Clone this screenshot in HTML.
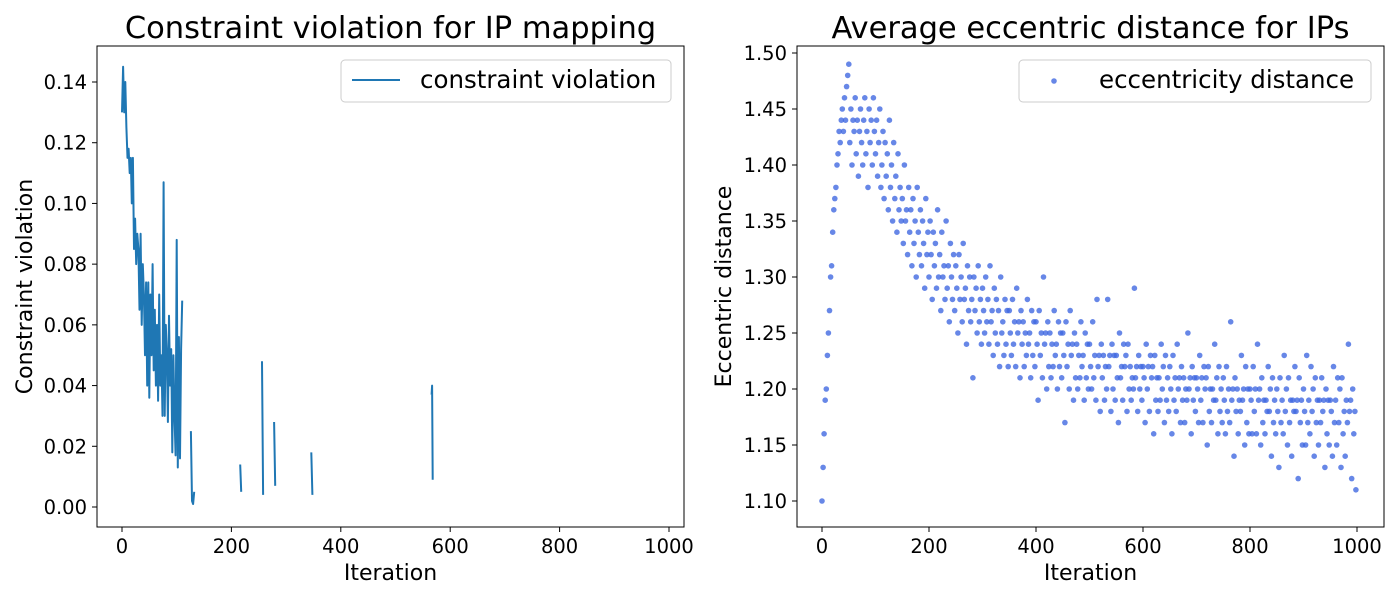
<!DOCTYPE html>
<html><head><meta charset="utf-8"><style>
body{margin:0;background:#fff;}
svg{display:block;font-family:"DejaVu Sans","Liberation Sans",sans-serif;}
</style></head><body>
<svg id="c" width="1400" height="600"></svg>
<script>
const leftIters=[0,2,4,6,8,10,12,14,16,18,20,22,24,26,28,30,32,34,36,38,40,42,44,46,48,50,52,54,56,58,60,62,64,66,68,70,72,74,76,78,80,82,84,86,88,90,92,94,96,98,100,102,104,106,108,110,112,126,128,130,132,134,216,218,220,256,258,260,278,280,282,346,348,350,566,567,568];
const leftValues=[0.13,0.145,0.13,0.14,0.125,0.115,0.118,0.11,0.115,0.10,0.115,0.085,0.095,0.08,0.09,0.085,0.065,0.09,0.06,0.08,0.07,0.05,0.074,0.04,0.074,0.036,0.07,0.05,0.08,0.045,0.065,0.04,0.06,0.035,0.07,0.04,0.05,0.03,0.107,0.03,0.06,0.05,0.028,0.063,0.04,0.052,0.018,0.05,0.03,0.017,0.088,0.013,0.056,0.016,0.052,0.068,null,0.025,0.002,0.001,0.005,null,0.014,0.005,null,0.048,0.004,null,0.028,0.007,null,0.018,0.004,null,0.037,0.040,0.009];
const leftXTicks=[0,200,400,600,800,1000];
const leftYTicks=[0,0.02,0.04,0.06,0.08,0.10,0.12,0.14];
const rightValues=[
1.10,1.13,1.16,1.19,1.20,1.23,1.25,1.27,1.30,1.31,1.34,1.36,1.37,1.38,1.40,1.41,1.43,1.42,1.44,1.45,1.43,1.46,1.44,1.47,1.48,
1.49,1.42,1.45,1.40,1.44,1.43,1.46,1.41,1.44,1.39,1.43,1.45,1.42,1.40,1.44,1.46,1.41,1.43,1.38,1.45,1.42,1.44,1.40,1.46,1.43,
1.41,1.44,1.39,1.42,1.45,1.38,1.40,1.43,1.37,1.42,1.39,1.41,1.36,1.44,1.38,1.40,1.35,1.42,1.37,1.39,1.34,1.41,1.36,1.38,1.35,
1.37,1.33,1.40,1.35,1.36,1.32,1.38,1.34,1.36,1.31,1.37,1.33,1.35,1.30,1.38,1.34,1.32,1.36,1.31,1.35,1.33,1.29,1.37,1.32,1.34,
1.30,1.35,1.32,1.28,1.34,1.31,1.33,1.29,1.36,1.30,1.32,1.27,1.34,1.30,1.31,1.28,1.35,1.29,1.31,1.26,1.33,1.30,1.28,1.32,1.27,
1.31,1.29,1.25,1.32,1.28,1.30,1.26,1.33,1.28,1.29,1.24,1.31,1.27,1.30,1.26,1.28,1.21,1.30,1.27,1.29,1.25,1.31,1.26,1.28,1.24,
1.29,1.27,1.25,1.30,1.26,1.28,1.24,1.31,1.26,1.27,1.23,1.29,1.25,1.28,1.24,1.27,1.22,1.30,1.25,1.26,1.23,1.28,1.24,1.27,1.22,
1.27,1.25,1.23,1.28,1.24,1.26,1.22,1.29,1.25,1.26,1.21,1.27,1.24,1.26,1.22,1.25,1.23,1.28,1.24,1.25,1.21,1.27,1.23,1.26,1.22,
1.26,1.24,1.19,1.27,1.23,1.25,1.21,1.30,1.24,1.25,1.20,1.26,1.22,1.25,1.21,1.24,1.22,1.27,1.23,1.24,1.20,1.26,1.22,1.25,1.21,
1.25,1.23,1.17,1.26,1.22,1.24,1.20,1.27,1.23,1.24,1.19,1.25,1.21,1.24,1.20,1.23,1.21,1.26,1.22,1.23,1.19,1.25,1.21,1.24,1.20,
1.24,1.22,1.20,1.26,1.21,1.23,1.19,1.28,1.22,1.23,1.18,1.24,1.21,1.23,1.19,1.22,1.20,1.28,1.22,1.23,1.18,1.24,1.20,1.23,1.19,
1.23,1.21,1.17,1.25,1.21,1.22,1.19,1.24,1.22,1.23,1.18,1.24,1.20,1.22,1.19,1.21,1.20,1.29,1.21,1.22,1.18,1.23,1.20,1.22,1.19,
1.22,1.21,1.17,1.24,1.20,1.22,1.18,1.23,1.21,1.22,1.16,1.23,1.19,1.21,1.18,1.21,1.19,1.24,1.20,1.22,1.17,1.23,1.19,1.21,1.18,
1.22,1.20,1.16,1.23,1.19,1.21,1.18,1.24,1.20,1.21,1.17,1.22,1.19,1.21,1.17,1.20,1.19,1.25,1.20,1.21,1.16,1.22,1.19,1.21,1.18,
1.21,1.20,1.17,1.23,1.19,1.21,1.17,1.22,1.20,1.21,1.15,1.22,1.18,1.20,1.17,1.20,1.19,1.24,1.19,1.21,1.16,1.22,1.18,1.20,1.17,
1.21,1.19,1.16,1.22,1.18,1.20,1.17,1.26,1.19,1.20,1.14,1.21,1.18,1.20,1.16,1.19,1.18,1.23,1.19,1.20,1.15,1.22,1.17,1.20,1.16,
1.20,1.19,1.16,1.22,1.18,1.20,1.16,1.24,1.19,1.20,1.15,1.21,1.17,1.19,1.16,1.19,1.18,1.22,1.18,1.20,1.14,1.21,1.17,1.19,1.16,
1.20,1.18,1.13,1.21,1.17,1.19,1.16,1.23,1.18,1.20,1.15,1.21,1.17,1.19,1.14,1.19,1.18,1.22,1.18,1.19,1.12,1.21,1.17,1.19,1.15,
1.20,1.18,1.15,1.23,1.17,1.19,1.16,1.22,1.18,1.20,1.14,1.21,1.17,1.19,1.15,1.19,1.17,1.21,1.18,1.19,1.13,1.20,1.16,1.19,1.15,
1.19,1.18,1.14,1.22,1.17,1.19,1.15,1.21,1.17,1.20,1.13,1.21,1.16,1.18,1.14,1.19,1.17,1.24,1.18,1.19,1.12,1.20,1.16,1.18,1.11];
const rightIterStep=2;
const rightXTicks=[0,200,400,600,800,1000];
const rightYTicks=[1.10,1.15,1.20,1.25,1.30,1.35,1.40,1.45,1.50];

const NS='http://www.w3.org/2000/svg';
const svg=document.getElementById('c');
function mk(tag,attrs,parent){const e=document.createElementNS(NS,tag);for(const k in attrs)e.setAttribute(k,attrs[k]);(parent||svg).appendChild(e);return e;}

const L={x0:97,x1:684,y0:46,y1:527};
const lx=v=>122+v*(669-122)/1000;
const ly=v=>507-v*(507-82)/0.14;
const R={x0:797,x1:1384,y0:46,y1:527};
const rx=v=>822+v*(1357-822)/1000;
const ry=v=>501-(v-1.10)*(501-53)/0.40;

function axes(A,xs,ys,xt,yt,yfmt,title,xl,yl,prefix,ylx){
  const g=mk('g',{});
  
  
  xt.forEach(t=>{const X=xs(t);
    mk('line',{x1:X,x2:X,y1:A.y1,y2:A.y1+5,stroke:'#000','stroke-width':1},g);
    const tx=mk('text',{x:X,y:A.y1+26,'text-anchor':'middle','font-size':19.5},g);tx.textContent=t;
    
    });
  yt.forEach(t=>{const Y=ys(t);
    mk('line',{x1:A.x0-5,x2:A.x0,y1:Y,y2:Y,stroke:'#000','stroke-width':1},g);
    const tx=mk('text',{x:A.x0-10,y:Y+7,'text-anchor':'end','font-size':19.5},g);tx.textContent=yfmt(t);
    
    });
  const t=mk('text',{x:(A.x0+A.x1)/2,y:38,'text-anchor':'middle','font-size':30.5},g);t.textContent=title;
  
  
  const x=mk('text',{x:(A.x0+A.x1)/2,y:580,'text-anchor':'middle','font-size':22},g);x.textContent=xl;
  
  
  const y=mk('text',{x:ylx,y:(A.y0+A.y1)/2,'text-anchor':'middle','font-size':22,transform:`rotate(-90 ${ylx} ${(A.y0+A.y1)/2})`},g);y.textContent=yl;
  
  
}
axes(L,lx,ly,leftXTicks,leftYTicks,v=>v.toFixed(2),'Constraint violation for IP mapping','Iteration','Constraint violation','left',32);
axes(R,rx,ry,rightXTicks,rightYTicks,v=>v.toFixed(2),'Average eccentric distance for IPs','Iteration','Eccentric distance','right',731);

let d='',pen=false;
for(let i=0;i<leftIters.length;i++){const v=leftValues[i];
  if(v===null){pen=false;continue;}
  d+=(pen?'L':'M')+lx(leftIters[i]).toFixed(1)+' '+ly(v).toFixed(1);pen=true;}
const path=mk('path',{d:d,fill:'none',stroke:'#1f77b4','stroke-width':2,'stroke-linejoin':'round'});



const sg=mk('g',{fill:'#4169e1','fill-opacity':0.8});


rightValues.forEach((v,i)=>{const c=mk('circle',{cx:rx(i*rightIterStep).toFixed(1),cy:ry(v).toFixed(1),r:2.8},sg);
  
  });

[L,R].forEach((A,i)=>{const r=mk('rect',{x:A.x0,y:A.y0,width:A.x1-A.x0,height:A.y1-A.y0,fill:'none',stroke:'#000','stroke-width':1});
  
  });

const lg1=mk('g',{});


mk('rect',{x:341,y:60,width:330,height:42,rx:4,fill:'#fff','fill-opacity':0.8,stroke:'#ccc'},lg1);
mk('line',{x1:352,x2:400,y1:80,y2:80,stroke:'#1f77b4','stroke-width':2},lg1);
const t1=mk('text',{x:420,y:88,'font-size':24.5},lg1);t1.textContent='constraint violation';


const lg2=mk('g',{});


mk('rect',{x:1019,y:60,width:352,height:42,rx:4,fill:'#fff','fill-opacity':0.8,stroke:'#ccc'},lg2);
mk('circle',{cx:1054,cy:81,r:2.8,fill:'#4169e1','fill-opacity':0.8},lg2);
const t2=mk('text',{x:1099,y:88,'font-size':24.5},lg2);t2.textContent='eccentricity distance';


</script>
</body></html>
